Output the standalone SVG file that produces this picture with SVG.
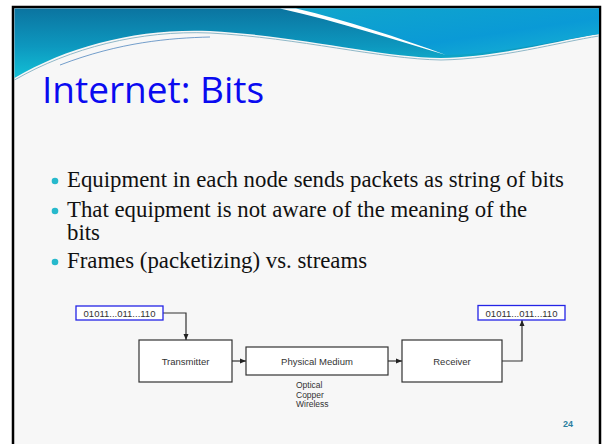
<svg xmlns="http://www.w3.org/2000/svg" width="602" height="444" viewBox="0 0 602 444">
<defs>
<linearGradient id="hdr" x1="0" y1="0" x2="0" y2="1">
<stop offset="0" stop-color="#0b74a0"/>
<stop offset="0.55" stop-color="#0d98bf"/>
<stop offset="1" stop-color="#12c0d6"/>
</linearGradient>
<linearGradient id="hdr2" x1="0" y1="0" x2="1" y2="1">
<stop offset="0" stop-color="#10a6cc"/>
<stop offset="0.6" stop-color="#0a9ad6"/>
<stop offset="1" stop-color="#18b4d2"/>
</linearGradient>
<marker id="ah" viewBox="0 0 6 6" refX="6" refY="3" markerWidth="6" markerHeight="6" markerUnits="userSpaceOnUse" orient="auto">
<path d="M0,0.5 L6,3 L0,5.5 Z" fill="#222"/>
</marker>
</defs>
<style>
.box{fill:#fff;stroke:#333;stroke-width:1.2}
.bits{fill:#fff;stroke:#2424e6;stroke-width:1.3}
.lbl{font-family:"Liberation Sans",Arial,sans-serif;font-size:9.5px;fill:#333;text-anchor:middle}
.note{font-family:"Liberation Sans",Arial,sans-serif;font-size:8.5px;fill:#333}
.bul{font-family:"Liberation Serif","Times New Roman",serif;font-size:22.8px;fill:#111}
.dot{fill:#27b9cc}
.conn{fill:none;stroke:#333;stroke-width:1.2}
</style>
<rect x="0" y="0" width="602" height="444" fill="#ffffff"/>
<rect x="13" y="7" width="587" height="440" fill="#f7f7f7" stroke="#000" stroke-width="2.5"/>
<g id="header">
<path d="M14.5,8.5 H599 V34 C560,40 500,57 441,58 C380,57 300,36 210,31 C140,28 70,45 14.5,78 Z" fill="url(#hdr)"/>
<path d="M290,8.5 H599 V34 C560,40 500,54 446,55 C400,38 345,20 290,8.5 Z" fill="url(#hdr2)"/>
<path d="M280,8.5 H296 C345,20 400,38 446,55 C395,40 340,22 280,8.5 Z" fill="#ffffff"/>
<path d="M14.5,80 C70,48 140,30 210,33 C300,38 380,59 441,60 C500,59 560,42 599,36" fill="none" stroke="#8fb8c8" stroke-width="1"/>
<path d="M60,65 C120,42 170,38 210,37" fill="none" stroke="#3a78b8" stroke-width="1" opacity="0.7"/>
</g>
<text x="42" y="103" font-family="'Open Sans','Noto Sans',sans-serif" font-size="37" fill="#0a0af0">Internet: Bits</text>
<g id="bullets">
<circle class="dot" cx="55" cy="181" r="3.3"/>
<text class="bul" x="67" y="187">Equipment in each node sends packets as string of bits</text>
<circle class="dot" cx="55" cy="211" r="3.3"/>
<text class="bul" x="67" y="217">That equipment is not aware of the meaning of the</text>
<text class="bul" x="67" y="240">bits</text>
<circle class="dot" cx="55" cy="262" r="3.3"/>
<text class="bul" x="67" y="268">Frames (packetizing) vs. streams</text>
</g>
<g id="connectors">
<polyline class="conn" points="163,313 186,313 186,340" marker-end="url(#ah)"/>
<line class="conn" x1="232" y1="361" x2="246" y2="361" marker-end="url(#ah)"/>
<line class="conn" x1="388" y1="361" x2="402" y2="361" marker-end="url(#ah)"/>
<polyline class="conn" points="502,361 522,361 522,320" marker-end="url(#ah)"/>
</g>
<g id="bits-in">
<rect class="bits" x="76" y="306" width="87" height="14"/>
<text class="lbl" x="119.5" y="316.5">01011...011...110</text>
</g>
<g id="transmitter">
<rect class="box" x="139" y="340" width="93" height="42"/>
<text class="lbl" x="185.5" y="364.5">Transmitter</text>
</g>
<g id="medium">
<rect class="box" x="246" y="347" width="142" height="28"/>
<text class="lbl" x="317" y="364.5">Physical Medium</text>
<text class="note" x="296" y="388">Optical</text>
<text class="note" x="296" y="397.5">Copper</text>
<text class="note" x="296" y="407">Wireless</text>
</g>
<g id="receiver">
<rect class="box" x="402" y="340" width="100" height="42"/>
<text class="lbl" x="452" y="364.5">Receiver</text>
</g>
<g id="bits-out">
<rect class="bits" x="478" y="305.5" width="87" height="14.5"/>
<text class="lbl" x="521.5" y="316.5">01011...011...110</text>
</g>
<text x="563" y="427" font-family="'Liberation Sans',Arial,sans-serif" font-size="9" font-weight="bold" fill="#2c7fa0">24</text>
</svg>
